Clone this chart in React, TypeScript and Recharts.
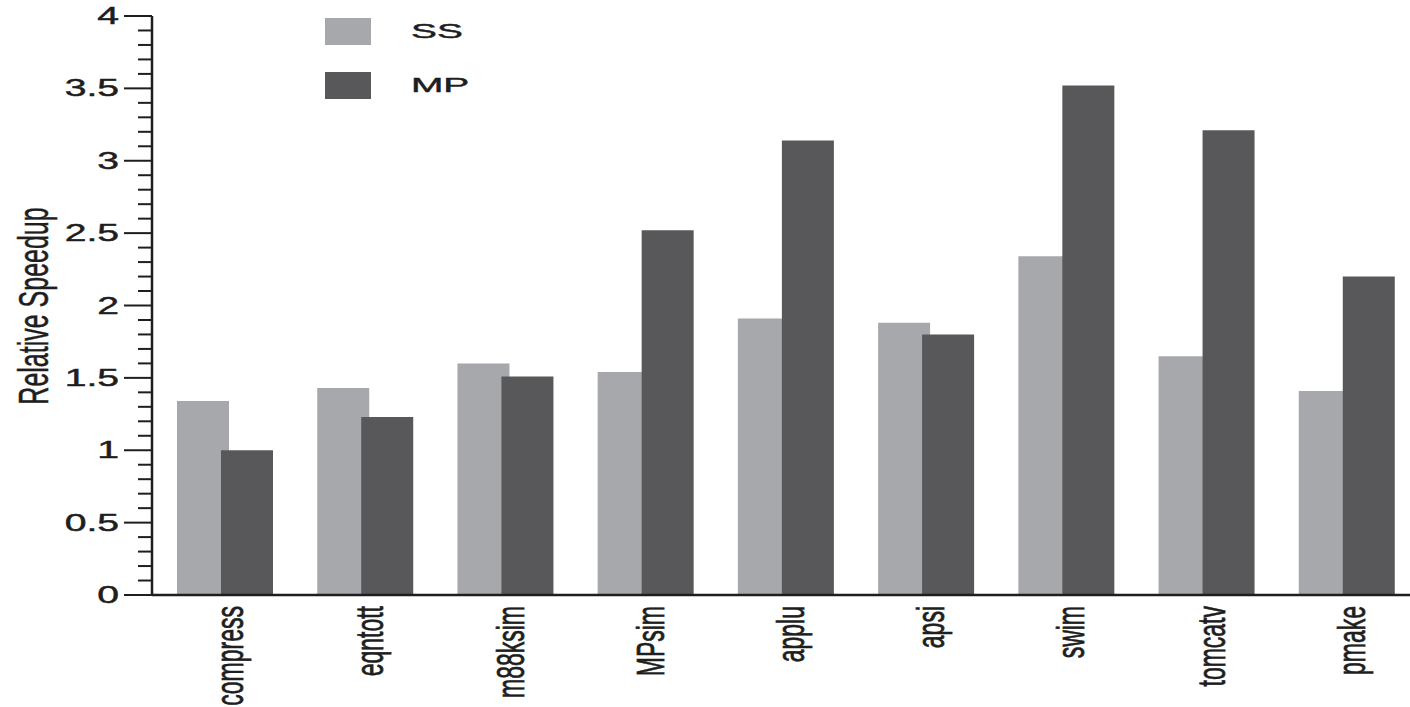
import React from 'react';
import { BarChart, Bar, XAxis, YAxis, Legend } from 'recharts';

const categories = ['compress', 'eqntott', 'm88ksim', 'MPsim', 'applu', 'apsi', 'swim', 'tomcatv', 'pmake'];
const ssValues = [1.34, 1.43, 1.6, 1.54, 1.91, 1.88, 2.34, 1.65, 1.41];
const mpValues = [1.0, 1.23, 1.51, 2.52, 3.14, 1.8, 3.52, 3.21, 2.2];
const seriesNames = ['SS', 'MP'];
const seriesColors = ['#a7a8ac', '#58585a'];
const majorTicks = [0, 0.5, 1, 1.5, 2, 2.5, 3, 3.5, 4];
const majorTickLabels = ['0', '0.5', '1', '1.5', '2', '2.5', '3', '3.5', '4'];
const allTicks = [
  0, 0.1, 0.2, 0.3, 0.4, 0.5, 0.6, 0.7, 0.8, 0.9,
  1, 1.1, 1.2, 1.3, 1.4, 1.5, 1.6, 1.7, 1.8, 1.9,
  2, 2.1, 2.2, 2.3, 2.4, 2.5, 2.6, 2.7, 2.8, 2.9,
  3, 3.1, 3.2, 3.3, 3.4, 3.5, 3.6, 3.7, 3.8, 3.9, 4,
];
const yAxisTitle = 'Relative Speedup';

const data = categories.map((name, i) => ({ name, SS: ssValues[i], MP: mpValues[i] }));

const FONT = '"Liberation Sans", Arial, Helvetica, sans-serif';
const INK = '#1e1e1e';
const STRETCH = 1.7;
const HEAVY = 0.45;

const majorIndex = (v: number) => majorTicks.findIndex((m) => Math.abs(m - v) < 1e-6);

const YTick = (props: any) => {
  const { x, y, payload } = props;
  const idx = majorIndex(payload.value);
  const major = idx >= 0;
  const len = major ? 28 : 14;
  return (
    <g>
      <line x1={x - len} x2={x} y1={y} y2={y} stroke={INK} strokeWidth={2} />
      {major && (
        <text
          transform={`translate(${x - 33},${y + 8}) scale(${STRETCH},1)`}
          textAnchor="end"
          fontFamily={FONT}
          fontSize={23}
          fill={INK}
          stroke={INK}
          strokeWidth={HEAVY}
        >
          {majorTickLabels[idx]}
        </text>
      )}
    </g>
  );
};

const XTick = (props: any) => {
  const { x, y, payload } = props;
  return (
    <text
      transform={`translate(${x + 18},${y + 11}) scale(${STRETCH},1) rotate(-90)`}
      textAnchor="end"
      fontFamily={FONT}
      fontSize={23}
      fill={INK}
      stroke={INK}
      strokeWidth={HEAVY}
    >
      {payload.value}
    </text>
  );
};

const renderLegend = () => (
  <svg width={600} height={120} style={{ display: 'block', overflow: 'visible' }}>
    {seriesNames.map((n, i) => (
      <g key={n}>
        <rect x={325} y={18 + i * 54} width={46} height={27} fill={seriesColors[i]} />
        <text
          transform={`translate(411,${38 + i * 54}) scale(1.85,1)`}
          fontFamily={FONT}
          fontSize={21}
          fill={INK}
          stroke={INK}
          strokeWidth={HEAVY}
        >
          {n}
        </text>
      </g>
    ))}
  </svg>
);

const YTitle = () => (
  <text
    transform={`translate(48,306) scale(${STRETCH},1) rotate(-90)`}
    textAnchor="middle"
    fontFamily={FONT}
    fontSize={25}
    fill={INK}
    stroke={INK}
    strokeWidth={0.3}
  >
    {yAxisTitle}
  </text>
);

export default function App() {
  return (
    <div
      style={{
        position: 'absolute',
        left: 0,
        top: 0,
        width: 1410,
        height: 707,
        overflow: 'hidden',
        background: '#ffffff',
      }}
    >
      <BarChart
        width={1420}
        height={707}
        data={data}
        margin={{ top: 16, right: 3, bottom: 0, left: 0 }}
        barGap={-8}
      >
        <XAxis
          dataKey="name"
          height={112}
          padding={{ left: 3, right: 0 }}
          tickLine={false}
          tickSize={0}
          tickMargin={0}
          interval={0}
          axisLine={{ stroke: INK, strokeWidth: 2.5 }}
          tick={<XTick />}
        />
        <YAxis
          width={152}
          domain={[0, 4]}
          ticks={allTicks}
          interval={0}
          type="number"
          allowDataOverflow
          tickLine={false}
          tickSize={0}
          tickMargin={0}
          axisLine={{ stroke: INK, strokeWidth: 2.5 }}
          tick={<YTick />}
          label={<YTitle />}
        />
        <Legend
          layout="vertical"
          align="center"
          verticalAlign="top"
          wrapperStyle={{ left: 0, top: 0, width: 0, height: 0, overflow: 'visible' }}
          content={renderLegend}
        />
        <Bar dataKey="SS" name="SS" fill={seriesColors[0]} barSize={52} isAnimationActive={false} />
        <Bar dataKey="MP" name="MP" fill={seriesColors[1]} barSize={52} isAnimationActive={false} />
      </BarChart>
    </div>
  );
}
